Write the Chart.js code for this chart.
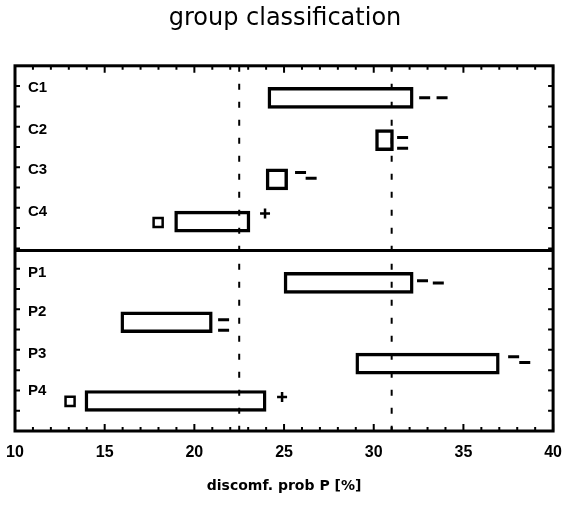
<!DOCTYPE html>
<html>
<head>
<meta charset="utf-8">
<script src="https://cdn.jsdelivr.net/npm/chart.js@4.4.1/dist/chart.umd.min.js"></script>
<style>
  html, body { margin: 0; padding: 0; background: #fff; }
  #wrap { width: 562px; height: 505px; }
</style>
</head>
<body>
<div id="wrap"><canvas id="groupChart"></canvas></div>
<script>
// rows of the chart, top to bottom
const rowLabels = ['C1', 'C2', 'C3', 'C4', 'P1', 'P2', 'P3', 'P4'];
const rowPos = [0.79, 1.83, 2.8, 3.84, 5.35, 6.32, 7.34, 8.26];
// discomfort probability range per group [%]
const rangeLow = [24.1, 30.1, 24.0, 18.9, 25.0, 15.9, 29.0, 13.9];
const rangeHigh = [32.2, 31.1, 25.2, 23.1, 32.2, 21.0, 37.0, 24.0];
// significance symbols next to the boxes
const dashX = [32.84, 33.81, 31.61, 31.61, 25.92, 26.51, 32.72, 33.6, 21.63, 21.63, 37.8, 38.42];
const dashY = [0.79, 0.79, 1.77, 2.03, 2.63, 2.77, 5.3, 5.35, 6.26, 6.52, 7.17, 7.31];
const plusX = [23.94, 24.89];
const plusY = [3.64, 8.16];
const boxX = [17.98, 13.07];
const boxY = [3.86, 8.27];
// reference lines and the C / P split
const refX = [22.5, 31];
const groupSplit = 4.55;

const framePlugin = {
    id: 'frame',
    afterDatasetsDraw(chart) {
        const {ctx, chartArea: a, scales: {x, y}} = chart;
        ctx.save();
        ctx.strokeStyle = '#000';

        // dashed reference lines
        ctx.lineWidth = 2;
        ctx.setLineDash([6, 12]);
        refX.forEach(v => {
            const px = x.getPixelForValue(v);
            ctx.beginPath();
            ctx.moveTo(px, a.top);
            ctx.lineTo(px, a.bottom);
            ctx.stroke();
        });
        ctx.setLineDash([]);

        // split between C and P groups
        ctx.lineWidth = 3;
        const sy = y.getPixelForValue(groupSplit);
        ctx.beginPath();
        ctx.moveTo(a.left, sy);
        ctx.lineTo(a.right, sy);
        ctx.stroke();

        // inward tick marks
        ctx.lineWidth = 2;
        ctx.beginPath();
        for (let v = x.min; v <= x.max; v++) {
            const px = x.getPixelForValue(v);
            const len = v % 5 === 0 ? 7 : 4;
            ctx.moveTo(px, a.bottom); ctx.lineTo(px, a.bottom - len);
            ctx.moveTo(px, a.top); ctx.lineTo(px, a.top + len);
        }
        for (let v = 0.5; v < y.max; v += 0.5) {
            const py = y.getPixelForValue(v);
            ctx.moveTo(a.left, py); ctx.lineTo(a.left + 5, py);
            ctx.moveTo(a.right, py); ctx.lineTo(a.right - 5, py);
        }
        ctx.stroke();

        // box
        ctx.lineWidth = 3;
        ctx.strokeRect(a.left, a.top, a.right - a.left, a.bottom - a.top);
        ctx.restore();
    }
};

const ctx = document.getElementById('groupChart').getContext('2d');
new Chart(ctx, {
    type: 'bar',
    data: {
        datasets: [
            {
                type: 'bar',
                indexAxis: 'y',
                data: rowPos.map((p, i) => ({x: [rangeLow[i], rangeHigh[i]], y: p})),
                backgroundColor: 'rgba(0,0,0,0)',
                borderColor: '#000',
                borderWidth: 2.8,
                borderSkipped: false,
                barThickness: 21
            },
            {
                type: 'scatter',
                data: dashX.map((v, i) => ({x: v, y: dashY[i]})),
                pointStyle: 'line',
                pointRadius: 5.5,
                pointBorderWidth: 3,
                pointBorderColor: '#000'
            },
            {
                type: 'scatter',
                data: plusX.map((v, i) => ({x: v, y: plusY[i]})),
                pointStyle: 'cross',
                pointRadius: 5,
                pointBorderWidth: 2.5,
                pointBorderColor: '#000'
            },
            {
                type: 'scatter',
                data: boxX.map((v, i) => ({x: v, y: boxY[i]})),
                pointStyle: 'rect',
                pointRadius: 6.4,
                pointBorderWidth: 2.5,
                pointBorderColor: '#000',
                pointBackgroundColor: '#fff'
            }
        ]
    },
    options: {
        responsive: true,
        maintainAspectRatio: false,
        animation: false,
        events: [],
        layout: {
            padding: {left: 15, right: 7, top: 0, bottom: 0}
        },
        scales: {
            x: {
                type: 'linear',
                min: 10,
                max: 40,
                offset: false,
                grid: {display: false, drawTicks: false, offset: false},
                border: {display: false},
                ticks: {
                    stepSize: 5,
                    maxRotation: 0,
                    padding: 12,
                    color: '#000',
                    font: {family: 'Liberation Sans', size: 16, weight: 'bold'}
                },
                title: {
                    display: true,
                    text: 'discomf. prob P [%]',
                    color: '#000',
                    font: {family: 'DejaVu Sans', size: 14, weight: 'bold'},
                    padding: {top: 4, bottom: 10}
                },
                afterFit: (scale) => {
                    scale.paddingLeft = 0;
                    scale.paddingRight = 0;
                }
            },
            y: {
                type: 'linear',
                min: 0,
                max: 9,
                reverse: true,
                offset: false,
                grid: {display: false, drawTicks: false, offset: false},
                border: {display: false},
                afterBuildTicks: (scale) => {
                    scale.ticks = rowPos.map(v => ({value: v}));
                },
                afterFit: (scale) => {
                    scale.width = 0;
                    scale.paddingTop = 0;
                    scale.paddingBottom = 0;
                },
                ticks: {
                    mirror: true,
                    padding: 13,
                    labelOffset: -10,
                    autoSkip: false,
                    color: '#000',
                    font: {family: 'Liberation Sans', size: 15, weight: 'bold'},
                    callback: (value, index) => rowLabels[index]
                }
            }
        },
        plugins: {
            legend: {display: false},
            tooltip: {enabled: false},
            title: {
                display: true,
                text: 'group classification',
                color: '#000',
                font: {family: 'DejaVu Sans', size: 24, weight: 'normal'},
                padding: {top: 4, bottom: 33}
            }
        }
    },
    plugins: [framePlugin]
});
</script>
</body>
</html>
